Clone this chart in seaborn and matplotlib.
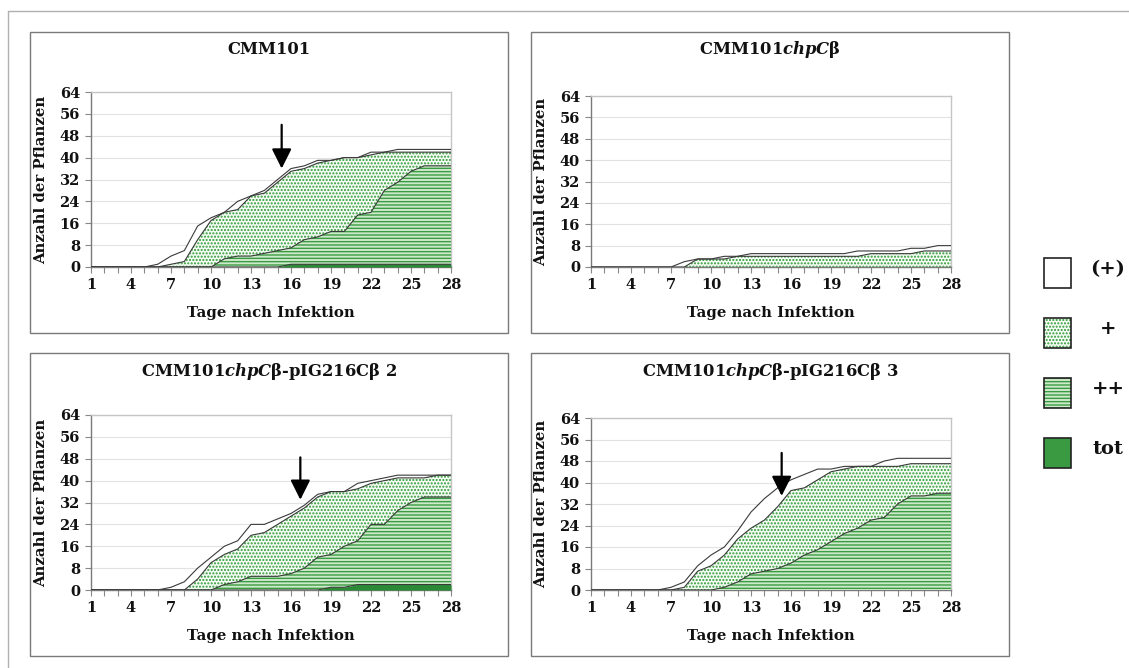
import matplotlib
matplotlib.use("Agg")
import matplotlib.pyplot as plt
from matplotlib.patches import Rectangle
from matplotlib.lines import Line2D
import seaborn as sns

# Days after infection
days = list(range(1, 29))
day_ticks = list(range(1, 29, 3))
count_ticks = list(range(0, 65, 8))

# Cumulative number of plants per symptom class, one array per panel
cmm101_weak = [0, 0, 0, 0, 0, 1, 4, 6, 15, 18, 20, 24, 26, 28, 32, 36, 37, 39, 39, 40, 40, 42, 42, 43, 43, 43, 43, 43]
cmm101_plus = [0, 0, 0, 0, 0, 0, 1, 2, 10, 17, 20, 21, 26, 27, 31, 35, 36, 38, 39, 40, 40, 41, 42, 42, 42, 42, 42, 42]
cmm101_pp = [0, 0, 0, 0, 0, 0, 0, 0, 0, 0, 3, 4, 4, 5, 6, 7, 10, 11, 13, 13, 19, 20, 28, 31, 35, 37, 37, 37]
cmm101_dead = [0, 0, 0, 0, 0, 0, 0, 0, 0, 0, 0, 0, 0, 0, 0, 1, 1, 1, 1, 1, 1, 1, 1, 1, 1, 1, 1, 1]

mut_weak = [0, 0, 0, 0, 0, 0, 0, 2, 3, 3, 4, 4, 5, 5, 5, 5, 5, 5, 5, 5, 6, 6, 6, 6, 7, 7, 8, 8]
mut_plus = [0, 0, 0, 0, 0, 0, 0, 0, 3, 3, 3, 4, 4, 4, 4, 4, 4, 4, 4, 4, 4, 5, 5, 5, 5, 6, 6, 6]
mut_pp = [0] * 28
mut_dead = [0] * 28

comp2_weak = [0, 0, 0, 0, 0, 0, 1, 3, 8, 12, 16, 18, 24, 24, 26, 28, 31, 35, 36, 36, 39, 40, 41, 42, 42, 42, 42, 42]
comp2_plus = [0, 0, 0, 0, 0, 0, 0, 0, 4, 10, 13, 15, 20, 21, 24, 27, 30, 34, 36, 36, 37, 39, 40, 41, 41, 41, 42, 42]
comp2_pp = [0, 0, 0, 0, 0, 0, 0, 0, 0, 0, 2, 3, 5, 5, 5, 6, 8, 12, 13, 16, 18, 24, 24, 29, 32, 34, 34, 34]
comp2_dead = [0, 0, 0, 0, 0, 0, 0, 0, 0, 0, 0, 0, 0, 0, 0, 0, 0, 0, 1, 1, 2, 2, 2, 2, 2, 2, 2, 2]

comp3_weak = [0, 0, 0, 0, 0, 0, 1, 3, 9, 13, 16, 22, 29, 34, 38, 41, 43, 45, 45, 46, 46, 46, 48, 49, 49, 49, 49, 49]
comp3_plus = [0, 0, 0, 0, 0, 0, 0, 1, 7, 9, 13, 19, 23, 26, 31, 37, 38, 41, 44, 45, 46, 46, 46, 46, 47, 47, 47, 47]
comp3_pp = [0, 0, 0, 0, 0, 0, 0, 0, 0, 0, 1, 3, 6, 7, 8, 10, 13, 15, 18, 21, 23, 26, 27, 32, 35, 35, 36, 36]
comp3_dead = [0] * 28

titles = [
    "CMM101",
    "CMM101$chpC$β",
    "CMM101$chpC$β-pIG216Cβ 2",
    "CMM101$chpC$β-pIG216Cβ 3",
]

# Arrow markers: day, start height, tip height (None = no arrow)
arrow_day = [15.3, None, 16.7, 15.3]
arrow_top = [52, None, 48.5, 51]
arrow_tip = [36, None, 33, 35]

legend_labels = ["(+)", "+", "++", "tot"]

panels = [
    (cmm101_weak, cmm101_plus, cmm101_pp, cmm101_dead),
    (mut_weak, mut_plus, mut_pp, mut_dead),
    (comp2_weak, comp2_plus, comp2_pp, comp2_dead),
    (comp3_weak, comp3_plus, comp3_pp, comp3_dead),
]

sns.set_theme(style="white")
plt.rcParams["font.family"] = ["DejaVu Serif"]
plt.rcParams["font.weight"] = "bold"
plt.rcParams["mathtext.fontset"] = "custom"
plt.rcParams["mathtext.rm"] = "DejaVu Serif:bold"
plt.rcParams["mathtext.it"] = "DejaVu Serif:italic:bold"
plt.rcParams["hatch.linewidth"] = 1.0

W, H = 1129, 668
fig = plt.figure(figsize=(W / 100, H / 100), dpi=100)

GREEN_DOT = "#2c9a33"
GREEN_DOT_BG = "#f5fbf4"
GREEN_STRIPE = "#3a9c42"
GREEN_LIGHT = "#cfe9cb"
GREEN_DARK = "#2a8a36"
LINE = "#3a3a3a"
TEXT = "#111111"


def px_rect(x0, y0, x1, y1):
    return [x0 / W, 1 - y1 / H, (x1 - x0) / W, (y1 - y0) / H]


axes_px = [(91, 92, 451, 267), (591, 96, 951, 267), (91, 415, 451, 590), (591, 418, 951, 590)]
boxes_px = [(30, 32, 508, 333), (531, 32, 1009, 333), (30, 353, 508, 656), (531, 353, 1009, 656)]
title_y_px = [50, 50, 372, 372]

# Outer frame (top and left edges)
fig.add_artist(Line2D([8 / W, 1], [1 - 11 / H, 1 - 11 / H], color="#b0b0b0", lw=1.0))
fig.add_artist(Line2D([8 / W, 8 / W], [1 - 11 / H, 0], color="#b0b0b0", lw=1.0))

for i, (weak, plus, pp, dead) in enumerate(panels):
    bx = boxes_px[i]
    fig.add_artist(Rectangle((bx[0] / W, 1 - bx[3] / H), (bx[2] - bx[0]) / W, (bx[3] - bx[1]) / H,
                             transform=fig.transFigure, fill=False, edgecolor="#7a7a7a", lw=1.0))
    fig.text((bx[0] + bx[2]) / 2 / W, 1 - title_y_px[i] / H, titles[i], ha="center", va="center",
             fontsize=11.8, fontweight="bold", color=TEXT)

    ax = fig.add_axes(px_rect(*axes_px[i]))
    ax.set_xlim(1, 28)
    ax.set_ylim(0, 64)
    ax.set_xticks(day_ticks)
    ax.set_xticks(days, minor=True)
    ax.set_yticks(count_ticks)
    ax.grid(axis="y", color="#e2e2e2", lw=0.8)
    ax.set_axisbelow(True)

    ax.fill_between(days, weak, color="white", lw=0, zorder=1)
    ax.fill_between(days, plus, facecolor=GREEN_DOT_BG, edgecolor=GREEN_DOT, hatch=".....", lw=0, zorder=2)
    if max(pp) > 0:
        ax.fill_between(days, pp, facecolor=GREEN_LIGHT, edgecolor=GREEN_STRIPE, hatch="-----", lw=0, zorder=3)
    if max(dead) > 0:
        ax.fill_between(days, dead, facecolor=GREEN_DARK, edgecolor=GREEN_DARK, lw=0, zorder=4)

    for series in (weak, plus, pp, dead):
        if max(series) > 0:
            sns.lineplot(x=days, y=series, ax=ax, color=LINE, lw=0.8, zorder=5)

    if arrow_day[i] is not None:
        ax.annotate("", xy=(arrow_day[i], arrow_tip[i]), xytext=(arrow_day[i], arrow_top[i]),
                    arrowprops=dict(arrowstyle="-|>,head_length=1.0,head_width=0.5", lw=1.6,
                                    color="black", shrinkA=0, shrinkB=0), zorder=6)

    for side in ("left", "bottom"):
        ax.spines[side].set_color("#7a7a7a")
        ax.spines[side].set_linewidth(1.0)
    for side in ("top", "right"):
        ax.spines[side].set_color("#c4c4c4")
        ax.spines[side].set_linewidth(1.0)
    ax.tick_params(axis="x", which="both", bottom=True, direction="out", length=4, width=0.8,
                   color="#888", pad=4, labelsize=10.5)
    ax.tick_params(axis="y", left=True, direction="out", length=4, width=0.8, color="#888",
                   pad=4, labelsize=10.5)
    for lab in ax.get_xticklabels() + ax.get_yticklabels():
        lab.set_fontweight("bold")
        lab.set_color(TEXT)
    ax.set_xlabel("Tage nach Infektion", fontsize=10.7, fontweight="bold", color=TEXT, labelpad=10)
    ax.set_ylabel("Anzahl der Pflanzen", fontsize=10.7, fontweight="bold", color=TEXT, labelpad=8)

# Legend on the right
leg_tops = [258, 318, 378, 438]
for j, lab in enumerate(legend_labels):
    y0 = leg_tops[j]
    r = [1044 / W, 1 - (y0 + 30) / H, 27 / W, 30 / H]
    if j == 0:
        fig.add_artist(Rectangle(r[:2], r[2], r[3], transform=fig.transFigure, facecolor="white", lw=0))
    elif j == 1:
        fig.add_artist(Rectangle(r[:2], r[2], r[3], transform=fig.transFigure, facecolor=GREEN_DOT_BG,
                                 edgecolor=GREEN_DOT, hatch=".....", lw=0))
    elif j == 2:
        fig.add_artist(Rectangle(r[:2], r[2], r[3], transform=fig.transFigure, facecolor=GREEN_LIGHT,
                                 edgecolor=GREEN_STRIPE, hatch="-----", lw=0))
    else:
        fig.add_artist(Rectangle(r[:2], r[2], r[3], transform=fig.transFigure, facecolor="#3a9a42", lw=0))
    fig.add_artist(Rectangle(r[:2], r[2], r[3], transform=fig.transFigure, fill=False,
                             edgecolor="#222", lw=1.2))
    fig.text(1108 / W, 1 - (y0 + 11) / H, lab, ha="center", va="center", fontsize=14,
             fontweight="bold", color=TEXT)

fig.savefig("out.png", dpi=100)
